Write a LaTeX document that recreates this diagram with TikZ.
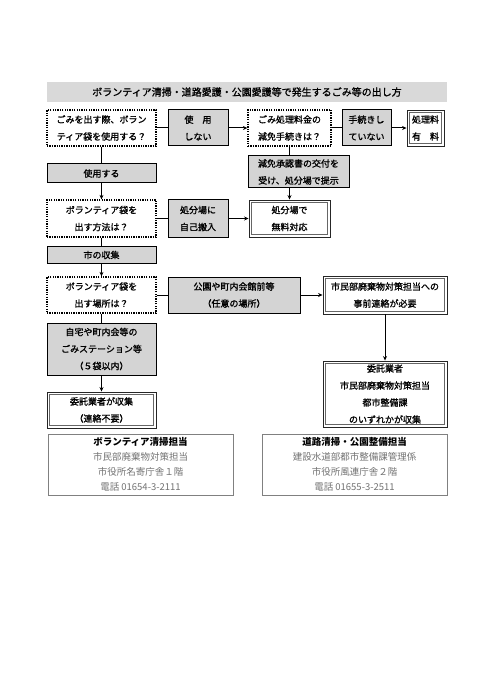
\documentclass[tikz,border=0pt]{standalone}
\usepackage{fontspec}
\setmainfont{Noto Sans CJK JP}
\newfontfamily\jpmid[FakeBold=1.2]{Noto Sans CJK JP}
\usetikzlibrary{arrows.meta}

\begin{document}
\begin{tikzpicture}[x=1pt, y=-1pt,
    txt/.style={align=center, font=\jpmid\fontsize{9}{17}\selectfont, inner sep=0pt},
    qbox/.style={txt, draw, fill=white, line width=1.3pt, dash pattern=on 1.3pt off 1.1pt},
    gbox/.style={txt, draw, fill=black!17, line width=1pt},
    dbox/.style={txt, draw=black!85, line width=0.9pt, path picture={\draw[line width=0.6pt, black!60] ([shift={(2.3pt,-2.3pt)}]path picture bounding box.north west) rectangle ([shift={(-2.3pt,2.3pt)}]path picture bounding box.south east);}},
    ibox/.style={align=center, font=\fontsize{9.5}{15}\selectfont, draw=black!50, line width=0.6pt, inner sep=0pt, text=black!55},
    link/.style={line width=1pt},
    arr/.style={line width=1pt, -{Stealth[length=4.5pt, width=4pt]}}]
    \fill[white] (0,0) rectangle (494,700);
    \useasboundingbox (0,0) rectangle (494,700);
    % title
    \node[fill=black!15, minimum width=400, minimum height=20, inner sep=0pt, font=\jpmid\fontsize{10}{12}\selectfont] (title) at (247,92) {ボランティア清掃・道路愛護・公園愛護等で発生するごみ等の出し方};
    % first row
    \node[qbox, minimum width=109, minimum height=36] (useBag) at (101.5,128) {ごみを出す際、ボラン\\ティア袋を使用する？};
    \node[gbox, minimum width=60, minimum height=36] (noUse) at (198,128) {使　用\\しない};
    \node[qbox, minimum width=83, minimum height=36] (discount) at (289.5,128) {ごみ処理料金の\\減免手続きは？};
    \node[gbox, minimum width=49, minimum height=36] (noForm) at (366.5,128) {手続きし\\ていない};
    \node[dbox, minimum width=37, minimum height=36] (paid) at (425.5,128) {処理料\\有　料};
    % second row
    \node[gbox, minimum width=109, minimum height=19] (use) at (101.5,173.5) {使用する};
    \node[gbox, minimum width=101, minimum height=32] (cert) at (298.5,172) {減免承認書の交付を\\受け、処分場で提示};
    % third row
    \node[qbox, minimum width=109, minimum height=37] (how) at (101.5,218.5) {ボランティア袋を\\出す方法は？};
    \node[gbox, minimum width=60, minimum height=38] (self) at (198,218.5) {処分場に\\自己搬入};
    \node[dbox, minimum width=81, minimum height=37] (free) at (289.5,218.5) {処分場で\\無料対応};
    \node[gbox, minimum width=109, minimum height=16] (city) at (101.5,255) {市の収集};
    % fourth row
    \node[qbox, minimum width=109, minimum height=36] (where) at (101.5,295) {ボランティア袋を\\出す場所は？};
    \node[gbox, minimum width=132, minimum height=36] (park) at (234,295) {公園や町内会館前等\\（任意の場所）};
    \node[dbox, minimum width=124, minimum height=38] (call) at (385,295) {市民部廃棄物対策担当への\\事前連絡が必要};
    \node[gbox, minimum width=109, minimum height=52] (station) at (101.5,349) {自宅や町内会等の\\ごみステーション等\\（５袋以内）};
    \node[dbox, minimum width=109, minimum height=36] (agent) at (101.5,410) {委託業者が収集\\（連絡不要）};
    \node[dbox, minimum width=124, minimum height=66] (anyone) at (385,394) {委託業者\\市民部廃棄物対策担当\\都市整備課\\のいずれかが収集};
    % contacts
    \node[ibox, minimum width=185, minimum height=61] (infoL) at (140.5,464.5) {\textcolor{black}{\bfseries ボランティア清掃担当}\\市民部廃棄物対策担当\\市役所名寄庁舎１階\\電話 01654-3-2111};
    \node[ibox, minimum width=185, minimum height=61] (infoR) at (354.5,464.5) {\textcolor{black}{\bfseries 道路清掃・公園整備担当}\\建設水道部都市整備課管理係\\市役所風連庁舎２階\\電話 01655-3-2511};

    \draw[link] (useBag) -- (noUse);
    \draw[arr] (noUse) -- (discount);
    \draw[link] (discount) -- (noForm);
    \draw[arr] (noForm) -- (paid);
    \draw[link] (useBag) -- (use);
    \draw[arr] (use) -- (how);
    \draw[link] (discount.south) -- (discount.south |- cert.north);
    \draw[arr] (discount.south |- cert.south) -- (free.north);
    \draw[link] (how) -- (self);
    \draw[arr] (self) -- (free);
    \draw[link] (how) -- (city);
    \draw[arr] (city) -- (where);
    \draw[link] (where) -- (park);
    \draw[arr] (park) -- (call);
    \draw[link] (where) -- (station);
    \draw[arr] (station) -- (agent);
    \draw[arr] (call) -- (anyone);
\end{tikzpicture}
\end{document}
